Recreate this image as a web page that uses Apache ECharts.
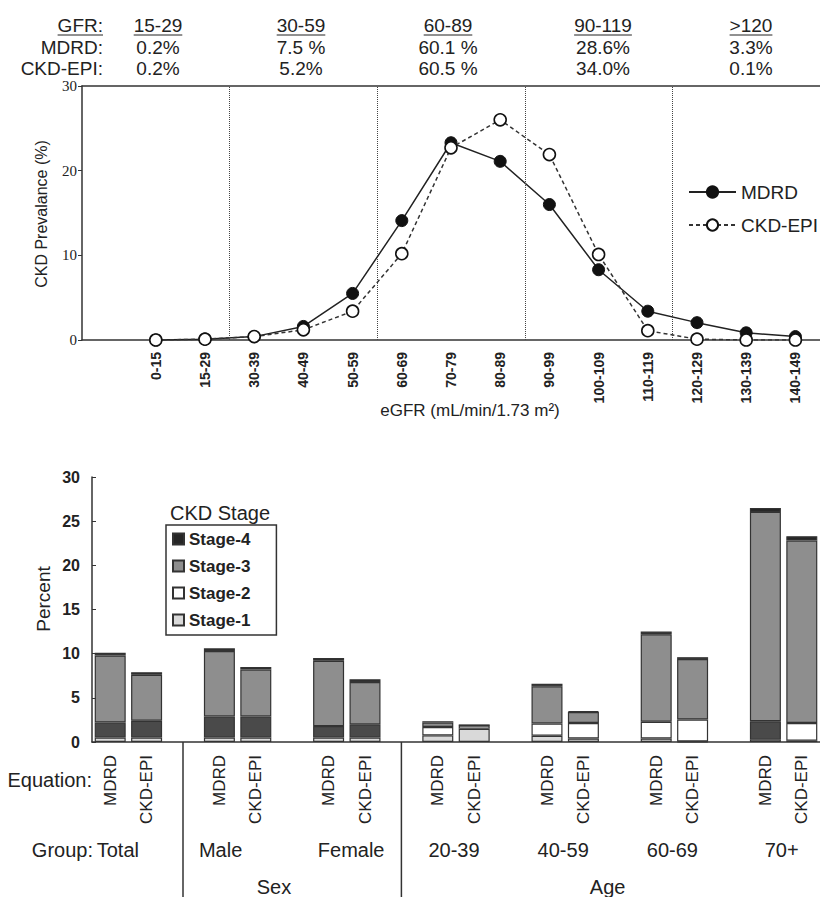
<!DOCTYPE html>
<html>
<head>
<meta charset="utf-8">
<script src="https://cdn.jsdelivr.net/npm/echarts@6/dist/echarts.min.js"></script>
<style>html,body{margin:0;padding:0;background:#fff}#c{width:820px;height:897px}</style>
</head>
<body>
<div id="c"></div>
<script>
// ---------- Top panel: CKD prevalence by eGFR bin ----------
const egfrBins = ['0-15','15-29','30-39','40-49','50-59','60-69','70-79','80-89','90-99','100-109','110-119','120-129','130-139','140-149'];
const mdrdPrev   = [0, 0.1, 0.4, 1.6, 5.5, 14.1, 23.3, 21.1, 16.0, 8.3, 3.4, 2.05, 0.85, 0.4];
const ckdepiPrev = [0, 0.1, 0.4, 1.2, 3.4, 10.2, 22.7, 26.0, 21.9, 10.1, 1.1, 0.1, 0, 0];
// bin edges (in bin-edge units, leading blank slot included) separating GFR bands
const bandBoundaries = [3, 6, 9, 12];
// summary table above the top panel
const gfrBands    = ['15-29', '30-59', '60-89', '90-119', '>120'];
const mdrdShare   = ['0.2%', '7.5 %', '60.1 %', '28.6%', '3.3%'];
const ckdepiShare = ['0.2%', '5.2%', '60.5 %', '34.0%', '0.1%'];

// ---------- Bottom panel: CKD stage distribution ----------
const groups = ['Total', 'Male', 'Female', '20-39', '40-59', '60-69', '70+'];
const equations = ['MDRD', 'CKD-EPI'];
const stageNames = ['Stage-1', 'Stage-2', 'Stage-3', 'Stage-4'];
const stage1MDRD = [0.5, 0.5, 0.5, 0.75, 0.7, 0.4, 0.3];
const stage1CKD  = [0.5, 0.5, 0.5, 1.5, 0.4, 0.05, 0.15];
const stage2MDRD = [1.7, 2.4, 1.3, 0.95, 1.4, 1.9, 2.05];
const stage2CKD  = [1.9, 2.4, 1.5, 0.35, 1.75, 2.5, 2.0];
const stage3MDRD = [7.6, 7.4, 7.4, 0.5, 4.2, 9.9, 23.7];
const stage3CKD  = [5.2, 5.3, 4.8, 0.05, 1.25, 6.85, 20.65];
const stage4MDRD = [0.3, 0.3, 0.3, 0.15, 0.3, 0.3, 0.45];
const stage4CKD  = [0.3, 0.3, 0.3, 0.0, 0.1, 0.2, 0.5];
const superGroups = ['Sex', 'Age'];

// ---------- styles ----------
const SANS = 'Liberation Sans, Arial, Helvetica, sans-serif';
const SERIF = 'Liberation Serif, Times New Roman, serif';
const INK = '#222';
const stageColors = ['#d9d9d9', '#ffffff', '#8e8e8e', '#262626'];
const darkStage2 = '#4a4a4a';
// which stage-2 segments are printed dark in the reference: [MDRD, CKD-EPI] per group
const stage2DarkFlags = [[1,1],[1,1],[1,1],[0,0],[0,0],[0,0],[1,0]];

const topCats = [''].concat(egfrBins);
const pad = arr => ['-'].concat(arr);

// slots: MDRD, CKD-EPI, spacer for each group (no spacer after the last group)
const slotCats = [];
groups.forEach((g, i) => {
  slotCats.push(g + '|MDRD', g + '|CKD-EPI');
  if (i < groups.length - 1) slotCats.push(g + '|');
});
function slotData(m, c, stageIdx) {
  const out = [];
  groups.forEach((g, i) => {
    [m[i], c[i]].forEach((v, k) => {
      if (stageIdx === 1 && stage2DarkFlags[i][k]) out.push({ value: v, itemStyle: { color: darkStage2 } });
      else out.push(v);
    });
    if (i < groups.length - 1) out.push('-');
  });
  return out;
}
const stageSeriesData = [
  slotData(stage1MDRD, stage1CKD, 0),
  slotData(stage2MDRD, stage2CKD, 1),
  slotData(stage3MDRD, stage3CKD, 2),
  slotData(stage4MDRD, stage4CKD, 3)
];

const chart = echarts.init(document.getElementById('c'), null, { renderer: 'svg' });

const option = {
  animation: false,
  backgroundColor: '#fff',
  textStyle: { fontFamily: SANS, color: INK },
  grid: [
    { left: 82, right: 0, top: 86, height: 254 },
    { left: 92, right: 0, top: 477, height: 265 }
  ],
  xAxis: [
    {
      type: 'category', gridIndex: 0, data: topCats, boundaryGap: true,
      axisLine: { lineStyle: { color: '#333', width: 1.5 } },
      axisTick: { inside: true, length: 5, lineStyle: { color: '#333' } },
      axisLabel: { interval: 0, rotate: 90, margin: 12, fontSize: 14, fontWeight: 'bold', color: INK, fontFamily: SANS }
    },
    {
      type: 'value', gridIndex: 0, position: 'top', min: 0, max: 15,
      axisLine: { show: true, lineStyle: { color: '#333', width: 1.5 } },
      axisTick: { show: false }, axisLabel: { show: false }, splitLine: { show: false }
    },
    {
      type: 'category', gridIndex: 1, data: slotCats, boundaryGap: true,
      axisLine: { lineStyle: { color: '#333', width: 1.5 } },
      axisTick: { show: false },
      axisLabel: { interval: 0, rotate: 90, margin: 13, fontSize: 17, color: INK, fontFamily: SANS,
        formatter: v => v.split('|')[1] }
    }
  ],
  yAxis: [
    {
      type: 'value', gridIndex: 0, min: 0, max: 30, interval: 10,
      axisLine: { show: true, lineStyle: { color: '#333', width: 1.5 } },
      axisTick: { show: true, length: 4, lineStyle: { color: '#333' } },
      axisLabel: { fontSize: 15, fontFamily: SERIF, color: INK, margin: 5 },
      splitLine: { show: false }
    },
    {
      type: 'value', gridIndex: 1, min: 0, max: 30, interval: 5,
      axisLine: { show: true, lineStyle: { color: '#333', width: 1.5 } },
      axisTick: { show: true, inside: true, length: 4, lineStyle: { color: '#333' } },
      axisLabel: { fontSize: 16, fontWeight: 'bold', fontFamily: SANS, color: INK, margin: 12 },
      splitLine: { show: false }
    }
  ],
  legend: [
    {
      data: ['MDRD', 'CKD-EPI'], orient: 'vertical', left: 683, top: 176,
      itemWidth: 47, itemHeight: 14, itemGap: 11,
      textStyle: { fontSize: 19, color: INK, fontFamily: SANS, lineHeight: 22 }
    },
    {
      data: ['Stage-4', 'Stage-3', 'Stage-2', 'Stage-1'], orient: 'vertical', left: 166, top: 525,
      icon: 'rect', itemWidth: 11, itemHeight: 11, itemGap: 7,
      padding: [4, 26, 5, 6], borderColor: '#333', borderWidth: 1.5,
      textStyle: { fontSize: 17, fontWeight: 'bold', color: INK, fontFamily: SANS, lineHeight: 20 }
    }
  ],
  series: [
    {
      name: 'MDRD', type: 'line', xAxisIndex: 0, yAxisIndex: 0, data: pad(mdrdPrev),
      symbol: 'circle', symbolSize: 12, z: 3,
      itemStyle: { color: '#111', borderColor: '#111', borderWidth: 1 },
      lineStyle: { color: '#222', width: 1.5 }
    },
    {
      name: 'CKD-EPI', type: 'line', xAxisIndex: 0, yAxisIndex: 0, data: pad(ckdepiPrev),
      symbol: 'circle', symbolSize: 12, z: 4,
      itemStyle: { color: '#fff', borderColor: '#111', borderWidth: 1.6 },
      lineStyle: { color: '#333', width: 1.5, type: [4, 3] }
    },
    {
      name: 'bands', type: 'line', xAxisIndex: 1, yAxisIndex: 0, data: [], silent: true,
      markLine: {
        silent: true, symbol: ['none', 'none'], label: { show: false },
        lineStyle: { type: 'dotted', color: '#444', width: 1 },
        data: bandBoundaries.map(v => ({ xAxis: v }))
      }
    }
  ].concat(stageNames.map((name, i) => ({
    name: name, type: 'bar', xAxisIndex: 2, yAxisIndex: 1, stack: 'ckd',
    barWidth: 31, data: stageSeriesData[i],
    itemStyle: { color: stageColors[i], borderColor: '#333', borderWidth: 1.2 }
  })))
};
chart.setOption(option);

// ---------- annotations ----------
const mctx = document.createElement('canvas').getContext('2d');
function textW(t, font) { mctx.font = font; return mctx.measureText(t).width; }
const g = [];
function txt(t, x, y, size, opts) {
  opts = opts || {};
  g.push({
    type: 'text', x: x, y: y, rotation: opts.rot || 0, silent: true,
    style: { text: t, fill: INK, font: (opts.weight || 'normal') + ' ' + size + 'px ' + (opts.family || SANS),
      align: opts.align || 'center', verticalAlign: 'middle' }
  });
}
// summary table
const tableFont = 19;
const colX = [158, 301, 448, 603, 751];
const rowY = [25, 47, 68];
const labelRight = 103;
const rowLabels = ['GFR:', 'MDRD:', 'CKD-EPI:'];
const rows = [gfrBands, mdrdShare, ckdepiShare];
rows.forEach((row, r) => {
  txt(rowLabels[r], labelRight, rowY[r], tableFont, { align: 'right' });
  row.forEach((t, c) => txt(t, colX[c], rowY[r], tableFont));
});
// underline the header row
const fnt = 'normal ' + tableFont + 'px ' + SANS;
function underline(x1, x2, y) {
  g.push({ type: 'line', silent: true, shape: { x1: x1, y1: y, x2: x2, y2: y }, style: { stroke: INK, lineWidth: 1 } });
}
underline(labelRight - textW(rowLabels[0], fnt), labelRight, rowY[0] + 10);
gfrBands.forEach((t, c) => { const w = textW(t, fnt); underline(colX[c] - w / 2, colX[c] + w / 2, rowY[0] + 10); });

// axis titles
txt('eGFR (mL/min/1.73 m\u00B2)', 470, 410, 17);
txt('CKD Prevalance (%)', 41, 214, 16, { rot: Math.PI / 2 });
txt('Percent', 43, 599, 19, { rot: Math.PI / 2 });
txt('CKD Stage', 170, 513, 20, { align: 'left' });

// bottom category labels
const px = k => chart.convertToPixel({ xAxisIndex: 2 }, k);
txt('Equation:', 92, 780, 20, { align: 'right' });
txt('Group:', 93, 850, 20, { align: 'right' });
const half = 15.5;
const groupAnchor = [['left', -half + 2], ['left', -half - 5], ['right', half + 4], ['center', 0], ['center', 0], ['center', 0], ['center', 0]];
groups.forEach((name, i) => {
  const xm = px(name + '|MDRD');
  const xc = px(name + '|CKD-EPI');
  const a = groupAnchor[i];
  let x;
  if (a[0] === 'left') x = xm + a[1];
  else if (a[0] === 'right') x = xc + a[1];
  else x = (xm + xc) / 2 - 2;
  txt(name, x, 850, 20, { align: a[0] });
});
// super-group labels and separators
txt(superGroups[0], (px('Male|CKD-EPI') + px('Male|')) / 2, 887, 20);
txt(superGroups[1], (px('40-59|CKD-EPI') + px('40-59|')) / 2 + 6, 887, 20);
const axisY = chart.convertToPixel({ yAxisIndex: 1 }, 0);
['Total|', 'Female|'].forEach(k => {
  const x = px(k);
  g.push({ type: 'line', silent: true, shape: { x1: x, y1: axisY, x2: x, y2: 897 }, style: { stroke: '#333', lineWidth: 1.5 } });
});

chart.setOption({ graphic: { elements: g } });
</script>
</body>
</html>
